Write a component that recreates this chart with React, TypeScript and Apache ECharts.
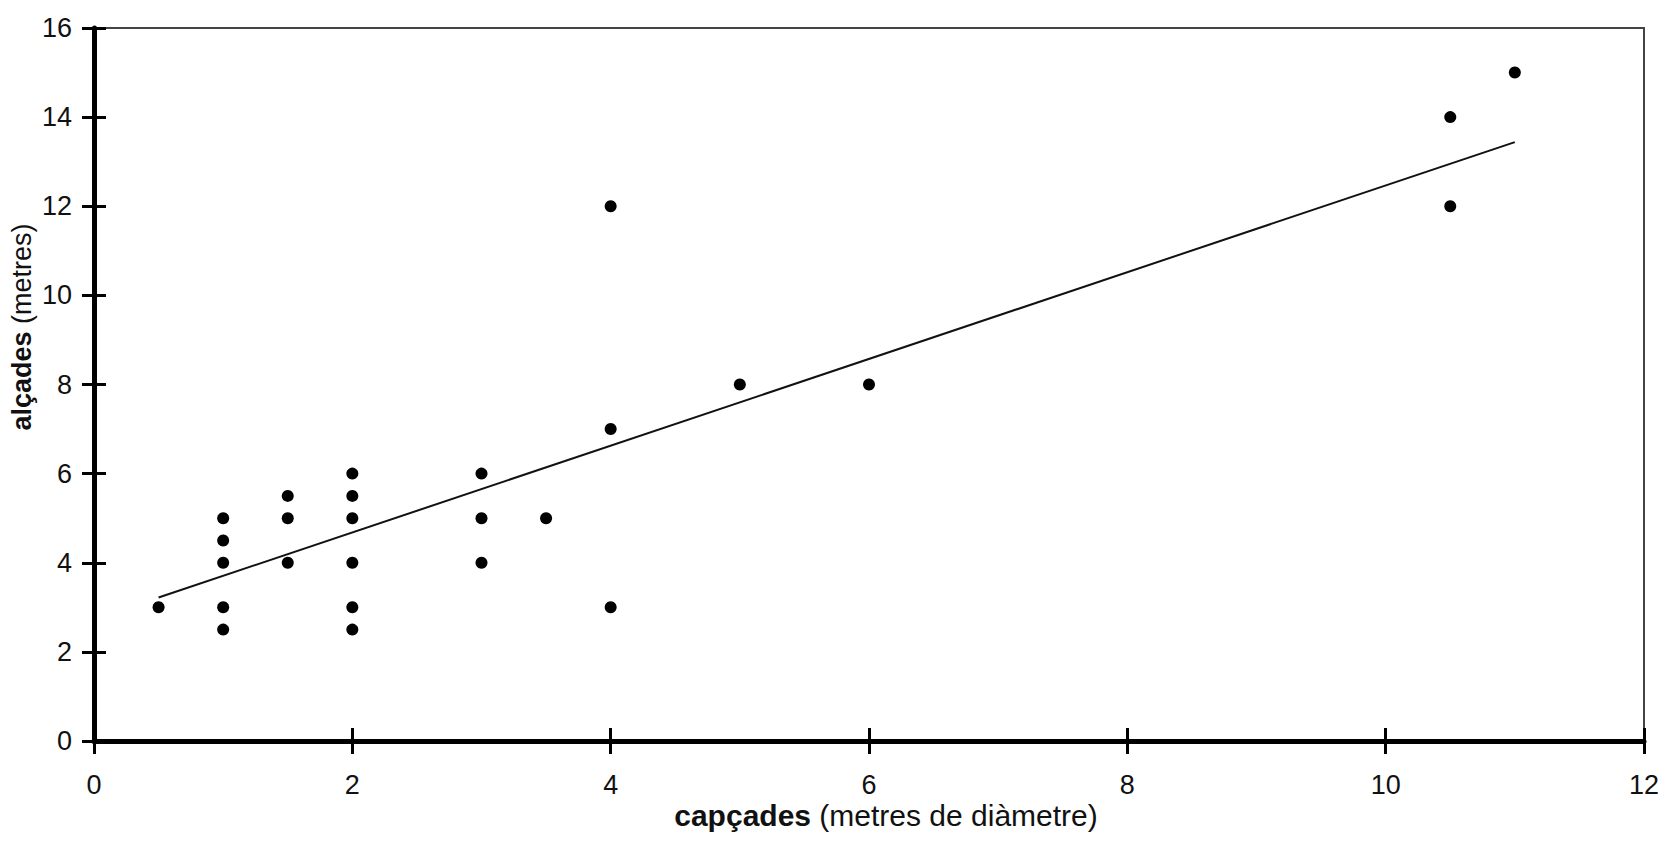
import React, { useEffect, useRef } from "react";
import * as echarts from "echarts";

const xValues = [0.5, 1, 1, 1, 1, 1, 1.5, 1.5, 1.5, 2, 2, 2, 2, 2, 2, 3, 3, 3, 3.5, 4, 4, 4, 5, 6, 10.5, 10.5, 11];
const yValues = [3, 5, 4.5, 4, 3, 2.5, 5.5, 5, 4, 6, 5.5, 5, 4, 3, 2.5, 6, 5, 4, 5, 12, 7, 3, 8, 8, 14, 12, 15];
const trendX = [0.5, 11];
const trendY = [3.22, 13.44];
const xTitleBold = "capçades";
const xTitleRest = " (metres de diàmetre)";
const yTitleBold = "alçades";
const yTitleRest = " (metres)";

const FONT = "'Liberation Sans', Arial, Helvetica, sans-serif";

export default function App() {
  const ref = useRef<HTMLDivElement>(null);
  useEffect(() => {
    if (!ref.current) return;
    const chart = echarts.init(ref.current, null, { renderer: "svg" });
    const points = xValues.map((x, i) => [x, yValues[i]]);
    const trend = trendX.map((x, i) => [x, trendY[i]]);
    const axisLabelStyle = { color: "#111", fontSize: 27, fontFamily: FONT };
    chart.setOption({
      animation: false,
      backgroundColor: "#fff",
      grid: {
        left: 94,
        right: 35,
        top: 28,
        bottom: 101,
        show: true,
        borderColor: "#444",
        borderWidth: 2,
        backgroundColor: "transparent",
      },
      xAxis: [
        {
          type: "value",
          min: 0,
          max: 12,
          interval: 2,
          splitLine: { show: false },
          axisLine: { show: true, onZero: false, lineStyle: { color: "#000", width: 5 } },
          axisTick: { show: true, inside: false, length: 13, lineStyle: { color: "#000", width: 3 } },
          axisLabel: { ...axisLabelStyle, margin: 30 },
        },
        {
          type: "value",
          position: "bottom",
          min: 0,
          max: 12,
          interval: 2,
          splitLine: { show: false },
          axisLine: { show: false, onZero: false },
          axisTick: { show: true, inside: true, length: 13, lineStyle: { color: "#000", width: 3 } },
          axisLabel: { show: false },
        },
      ],
      yAxis: [
        {
          type: "value",
          min: 0,
          max: 16,
          interval: 2,
          splitLine: { show: false },
          axisLine: { show: true, onZero: false, lineStyle: { color: "#000", width: 5 } },
          axisTick: { show: true, inside: false, length: 12, lineStyle: { color: "#000", width: 3 } },
          axisLabel: { ...axisLabelStyle, margin: 22 },
        },
        {
          type: "value",
          position: "left",
          min: 0,
          max: 16,
          interval: 2,
          splitLine: { show: false },
          axisLine: { show: false, onZero: false },
          axisTick: { show: true, inside: true, length: 12, lineStyle: { color: "#000", width: 3 } },
          axisLabel: { show: false },
        },
      ],
      series: [
        {
          type: "scatter",
          data: points,
          symbol: "circle",
          symbolSize: 12,
          itemStyle: { color: "#000", opacity: 1 },
          z: 3,
        },
        {
          type: "line",
          data: trend,
          symbol: "none",
          lineStyle: { color: "#111", width: 2 },
          z: 2,
        },
      ],
      graphic: [
        {
          type: "text",
          x: 886,
          y: 815,
          style: {
            text: `{b|${xTitleBold}}${xTitleRest}`,
            fontSize: 30,
            fontFamily: FONT,
            fill: "#111",
            align: "center",
            verticalAlign: "middle",
            rich: { b: { fontWeight: "bold", fontSize: 30, fontFamily: FONT, fill: "#111" } },
          },
        },
        {
          type: "text",
          x: 22,
          y: 327,
          rotation: Math.PI / 2,
          style: {
            text: `{b|${yTitleBold}}${yTitleRest}`,
            fontSize: 27,
            fontFamily: FONT,
            fill: "#111",
            align: "center",
            verticalAlign: "middle",
            rich: { b: { fontWeight: "bold", fontSize: 27, fontFamily: FONT, fill: "#111" } },
          },
        },
      ],
    });
    return () => chart.dispose();
  }, []);
  return (
    <div
      ref={ref}
      style={{ position: "fixed", left: 0, top: 0, width: 1679, height: 842 }}
    />
  );
}
